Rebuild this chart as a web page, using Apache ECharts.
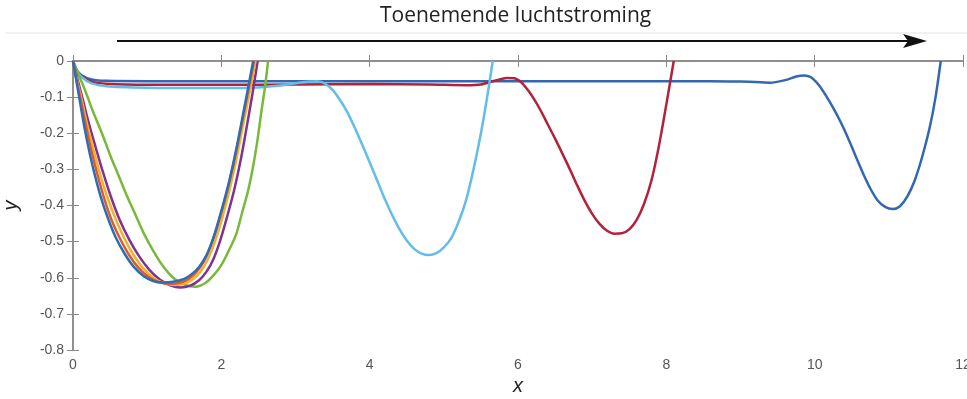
<!DOCTYPE html>
<html lang="nl">
<head>
	<meta charset="UTF-8">
	<title>luchtstroming</title>
	<style>
		html, body { margin: 0; padding: 0; background: #fff; }
	</style>
</head>
<body>
	<div id="main" style="width: 967px;height: 399px"></div>
	<script src="https://cdn.jsdelivr.net/npm/echarts@6/dist/echarts.min.js"></script>
	<script>
		// kleuren in matlab-volgorde
		var colors = ['#2f6cb4', '#df5a2b', '#efb12e', '#7f3290', '#7ab83c', '#62bde8', '#b3223a', '#3467b3'];

		var xTicks = [0, 2, 4, 6, 8, 10, 12];
		var yTicks = [0, -0.1, -0.2, -0.3, -0.4, -0.5, -0.6, -0.7, -0.8];

		var blue1 = [[0,0],[0.05,-0.06],[0.1,-0.12],[0.16,-0.19],[0.23,-0.26],[0.3,-0.32],[0.38,-0.38],[0.48,-0.44],[0.58,-0.49],[0.7,-0.535],
			[0.82,-0.57],[0.95,-0.595],[1.08,-0.609],[1.2,-0.613],[1.35,-0.611],[1.5,-0.603],[1.6,-0.59],[1.7,-0.57],[1.8,-0.538],[1.9,-0.485],
			[2.0,-0.415],[2.1,-0.338],[2.2,-0.245],[2.3,-0.14],[2.37,-0.065],[2.43,0]];
		var orange1 = [[0,0],[0.05,-0.055],[0.11,-0.115],[0.18,-0.185],[0.25,-0.25],[0.33,-0.315],[0.42,-0.38],[0.52,-0.44],[0.63,-0.49],[0.75,-0.535],
			[0.88,-0.572],[1.02,-0.598],[1.16,-0.612],[1.3,-0.617],[1.44,-0.614],[1.56,-0.603],[1.66,-0.585],[1.76,-0.556],[1.86,-0.51],[1.96,-0.448],
			[2.06,-0.375],[2.16,-0.29],[2.26,-0.19],[2.35,-0.095],[2.44,0]];
		var yellow1 = [[0,0],[0.05,-0.05],[0.12,-0.11],[0.19,-0.175],[0.27,-0.24],[0.36,-0.31],[0.46,-0.375],[0.57,-0.435],[0.69,-0.49],[0.81,-0.535],
			[0.94,-0.572],[1.08,-0.6],[1.23,-0.615],[1.38,-0.62],[1.52,-0.615],[1.63,-0.602],[1.73,-0.58],[1.82,-0.548],[1.91,-0.502],[2.0,-0.443],
			[2.1,-0.365],[2.2,-0.275],[2.29,-0.18],[2.38,-0.088],[2.46,0]];
		var purple1 = [[0,0],[0.06,-0.05],[0.13,-0.105],[0.21,-0.17],[0.3,-0.235],[0.4,-0.305],[0.51,-0.375],[0.63,-0.44],[0.76,-0.495],[0.89,-0.54],
			[1.03,-0.578],[1.17,-0.605],[1.31,-0.621],[1.45,-0.627],[1.58,-0.622],[1.7,-0.607],[1.8,-0.583],[1.89,-0.55],[1.98,-0.5],[2.07,-0.437],
			[2.17,-0.36],[2.26,-0.275],[2.34,-0.185],[2.42,-0.09],[2.49,0]];
		var green1 = [[0,0],[0.08,-0.04],[0.17,-0.085],[0.27,-0.14],[0.39,-0.2],[0.5,-0.26],[0.61,-0.315],[0.72,-0.37],[0.83,-0.42],[0.95,-0.475],
			[1.08,-0.525],[1.21,-0.567],[1.35,-0.6],[1.5,-0.619],[1.65,-0.625],[1.79,-0.614],[1.9,-0.592],[2.0,-0.565],[2.1,-0.525],[2.2,-0.48],
			[2.28,-0.42],[2.36,-0.36],[2.43,-0.29],[2.49,-0.215],[2.54,-0.14],[2.59,-0.07],[2.63,0]];
		var lightblue = [[0,0],[0.05,-0.025],[0.12,-0.045],[0.25,-0.062],[0.45,-0.07],[1,-0.074],[1.8,-0.075],[2.4,-0.074],[2.8,-0.068],
			[3.1,-0.059],[3.3,-0.056],[3.4,-0.063],[3.5,-0.08],[3.6,-0.108],[3.7,-0.142],[3.8,-0.185],[3.9,-0.232],[4.0,-0.28],[4.1,-0.33],
			[4.2,-0.38],[4.3,-0.425],[4.4,-0.465],[4.5,-0.497],[4.6,-0.52],[4.7,-0.533],[4.8,-0.537],[4.9,-0.532],[5.0,-0.516],[5.1,-0.49],
			[5.2,-0.445],[5.3,-0.385],[5.4,-0.3],[5.5,-0.2],[5.58,-0.105],[5.66,0]];
		var red1 = [[0,0],[0.05,-0.025],[0.12,-0.042],[0.25,-0.057],[0.45,-0.063],[1,-0.066],[2,-0.066],[3,-0.065],[4,-0.064],[4.8,-0.065],
			[5.3,-0.067],[5.5,-0.065],[5.7,-0.054],[5.85,-0.047],[5.95,-0.048],[6.05,-0.06],[6.12,-0.077],[6.2,-0.1],[6.3,-0.135],[6.4,-0.175],
			[6.5,-0.215],[6.6,-0.257],[6.7,-0.3],[6.8,-0.345],[6.9,-0.387],[7.0,-0.423],[7.1,-0.451],[7.2,-0.47],[7.3,-0.478],[7.4,-0.477],
			[7.5,-0.466],[7.6,-0.44],[7.7,-0.395],[7.8,-0.33],[7.9,-0.235],[8.0,-0.12],[8.1,0]];
		var blue2 = [[0,0],[0.05,-0.025],[0.12,-0.04],[0.25,-0.051],[0.45,-0.055],[1,-0.056],[3,-0.056],[5,-0.056],[7,-0.056],[8.6,-0.056],
			[9.0,-0.057],[9.2,-0.058],[9.4,-0.06],[9.6,-0.053],[9.75,-0.043],[9.86,-0.04],[9.95,-0.045],[10.05,-0.065],[10.15,-0.095],[10.25,-0.13],
			[10.35,-0.169],[10.45,-0.213],[10.55,-0.262],[10.65,-0.31],[10.75,-0.353],[10.85,-0.386],[10.95,-0.404],[11.05,-0.41],[11.15,-0.402],
			[11.25,-0.375],[11.35,-0.33],[11.45,-0.265],[11.55,-0.185],[11.63,-0.1],[11.7,0]];

		var curves = [blue1, orange1, yellow1, purple1, green1, lightblue, red1, blue2];

		var axisGrey = '#8c8886';
		var labelStyle = { color: '#555', fontSize: 14, fontFamily: 'Liberation Sans, Arial' };

		var myChart = echarts.init(document.getElementById('main'));

		var series = curves.map(function (c, i) {
			return {
				type: 'line',
				data: c,
				smooth: 0.3,
				showSymbol: false,
				lineStyle: { color: colors[i], width: 2.5 },
				z: 10 - i
			};
		});

		var option = {
			animation: false,
			grid: { left: 73, right: 4, top: 61, bottom: 49, outerBoundsMode: 'none' },
			xAxis: [{
				type: 'value', min: 0, max: 12, interval: 2, position: 'bottom',
				name: 'x', nameLocation: 'middle', nameGap: 26,
				nameTextStyle: { fontStyle: 'italic', fontSize: 20, color: '#222', fontFamily: 'Liberation Sans, Arial' },
				axisLine: { lineStyle: { color: axisGrey, width: 1.5 } },
				axisTick: { inside: true, length: 6, lineStyle: { color: axisGrey } },
				axisLabel: Object.assign({ margin: 8, showMaxLabel: true }, labelStyle),
				splitLine: { show: false }
			}, {
				type: 'value', min: 0, max: 12, interval: 2, position: 'top',
				axisLine: { show: true, lineStyle: { color: axisGrey, width: 1.5 } },
				axisTick: { inside: true, length: 6, lineStyle: { color: axisGrey } },
				axisLabel: { show: false },
				splitLine: { show: false }
			}],
			yAxis: [{
				type: 'value', min: -0.8, max: 0, interval: 0.1, position: 'left',
				name: 'y', nameLocation: 'middle', nameGap: 52,
				nameTextStyle: { fontStyle: 'italic', fontSize: 20, color: '#222', fontFamily: 'Liberation Sans, Arial' },
				axisLine: { show: true, lineStyle: { color: axisGrey, width: 1.5 } },
				axisTick: { inside: true, length: 6, lineStyle: { color: axisGrey } },
				axisLabel: Object.assign({ margin: 9 }, labelStyle),
				splitLine: { show: false }
			}, {
				type: 'value', min: -0.8, max: 0, interval: 0.1, position: 'right',
				axisLine: { show: true, lineStyle: { color: axisGrey, width: 1.5 } },
				axisTick: { inside: true, length: 6, lineStyle: { color: axisGrey } },
				axisLabel: { show: false },
				splitLine: { show: false }
			}],
			graphic: [
				{ type: 'text', left: 380, top: 6, style: { text: 'Toenemende luchtstroming', font: '21px "Open Sans"', fill: '#222' } },
				{ type: 'line', shape: { x1: 5, y1: 33, x2: 967, y2: 33 }, style: { stroke: '#e2e2e2', lineWidth: 1 } },
				{ type: 'line', shape: { x1: 117, y1: 41, x2: 912, y2: 41 }, style: { stroke: '#111', lineWidth: 2 } },
				{ type: 'polygon', shape: { points: [[903, 34], [927, 41], [903, 48], [908, 41]] }, style: { fill: '#111' } }
			],
			series: series
		};
		myChart.setOption(option);
	</script>
</body>
</html>
